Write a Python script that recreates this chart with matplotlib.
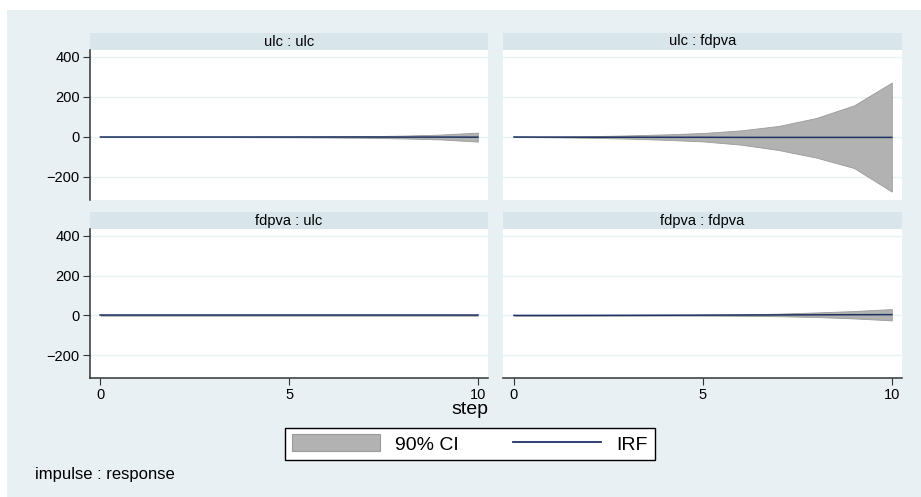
import numpy as np
import matplotlib.pyplot as plt
from matplotlib.patches import Rectangle, Patch
from matplotlib.lines import Line2D

plt.rcParams['font.family'] = ['Liberation Sans', 'DejaVu Sans']

steps = [0, 1, 2, 3, 4, 5, 6, 7, 8, 9, 10]

# impulse : response panels, in Stata order
titles = ["ulc : ulc", "ulc : fdpva", "fdpva : ulc", "fdpva : fdpva"]

irf_ulc_ulc = [0, 0, 0, 0, 0, 0, 0, 0, -0.5, -0.5, -1]
lo_ulc_ulc = [0, -0.1, -0.2, -0.4, -0.8, -1.5, -2.5, -4, -7, -12, -23]
hi_ulc_ulc = [0, 0.1, 0.2, 0.4, 0.8, 1.5, 2.5, 4, 7, 12, 22]

irf_ulc_fdpva = [0, -0.5, -1, -1, -1.5, -1.5, -2, -2, -2, -2, -2]
lo_ulc_fdpva = [0, -1.5, -4, -8, -14, -22, -38, -65, -103, -155, -273]
hi_ulc_fdpva = [0, 1.5, 4, 8, 13, 20, 33, 55, 95, 158, 272]

irf_fdpva_ulc = [0, 0, 0, 0, 0, 0, 0, 0, 0, 0, 0]
lo_fdpva_ulc = [0, -0.1, -0.1, -0.2, -0.2, -0.3, -0.4, -0.5, -0.6, -0.8, -1]
hi_fdpva_ulc = [0, 0.1, 0.1, 0.2, 0.2, 0.3, 0.4, 0.5, 0.6, 0.8, 1]

irf_fdpva_fdpva = [0, 0, 0.3, 0.6, 1, 1.5, 2, 2.5, 3, 3.5, 4]
lo_fdpva_fdpva = [0, -0.2, -0.4, -0.6, -0.8, -1, -2, -4, -8, -15, -25]
hi_fdpva_fdpva = [0, 0.2, 0.5, 1, 1.5, 3, 5, 9, 15, 22, 32]

irfs = [irf_ulc_ulc, irf_ulc_fdpva, irf_fdpva_ulc, irf_fdpva_fdpva]
los = [lo_ulc_ulc, lo_ulc_fdpva, lo_fdpva_ulc, lo_fdpva_fdpva]
his = [hi_ulc_ulc, hi_ulc_fdpva, hi_fdpva_ulc, hi_fdpva_fdpva]

yticks = [-200, 0, 200, 400]
xticks = [0, 5, 10]

bg = '#e8f0f3'
strip_col = '#d8e5eb'
ci_col = '#b2b2b2'
ci_edge = '#9a9a9a'
irf_col = '#1f3264'
axis_col = '#333333'

W, H = 921, 497
fig = plt.figure(figsize=(W / 100, H / 100), dpi=100)
fig.patch.set_facecolor('white')
fig.add_artist(Rectangle((7 / W, 0), 1, 1 - 10 / H, transform=fig.transFigure,
                         facecolor=bg, edgecolor='none', zorder=-10))

# panel boxes in pixels: (left, right) and (top, bottom)
cols = [(89.5, 488), (503, 902)]
rows = [(50, 200), (229, 378)]
strip_h = 17

for i in range(4):
    r, c = divmod(i, 2)
    x0, x1 = cols[c]
    y0, y1 = rows[r]
    ax = fig.add_axes([x0 / W, 1 - y1 / H, (x1 - x0) / W, (y1 - y0) / H])
    ax.set_facecolor('white')
    ax.fill_between(steps, los[i], his[i], facecolor=ci_col, edgecolor=ci_edge,
                    linewidth=0.6, zorder=2)
    ax.plot(steps, irfs[i], color=irf_col, linewidth=1.1, zorder=3)
    ax.set_xlim(-0.29, 10.27)
    ax.set_ylim(-315, 435)
    ax.set_yticks(yticks)
    ax.set_xticks(xticks)
    for yv in yticks:
        ax.axhline(yv, color='#e9f1f3', linewidth=1, zorder=1)
    for s in ['top', 'right']:
        ax.spines[s].set_visible(False)
    ax.spines['left'].set_visible(c == 0)
    ax.spines['bottom'].set_visible(r == 1)
    ax.spines['left'].set_color(axis_col)
    ax.spines['bottom'].set_color(axis_col)
    ax.spines['left'].set_linewidth(1.1)
    ax.spines['bottom'].set_linewidth(1.1)
    ax.tick_params(axis='y', left=(c == 0), labelleft=(c == 0), length=5,
                   color=axis_col, labelsize=10.5, pad=2)
    ax.tick_params(axis='x', bottom=(r == 1), labelbottom=(r == 1), length=5,
                   color=axis_col, labelsize=10.5, pad=2)
    # strip header
    ax.add_patch(Rectangle((0, 1), 1, strip_h / (y1 - y0), transform=ax.transAxes,
                           facecolor=strip_col, edgecolor='none', clip_on=False))
    ax.text(0.5, 1 + strip_h / 2 / (y1 - y0), titles[i], transform=ax.transAxes,
            ha='center', va='center', fontsize=10.5)

fig.text(470 / W, 1 - 410 / H, 'step', ha='center', va='center', fontsize=14)
fig.text(35 / W, 1 - 475 / H, 'impulse : response', ha='left', va='center',
         fontsize=12)

handles = [Patch(facecolor=ci_col, edgecolor=ci_edge, linewidth=0.8),
           Line2D([0], [0], color=irf_col, linewidth=1.3)]
leg = fig.legend(handles, ['90% CI', 'IRF'], loc='center', ncol=2,
                 bbox_to_anchor=(470 / W, 1 - 444 / H), fontsize=14,
                 frameon=True, fancybox=False, edgecolor='black', framealpha=1,
                 handlelength=4.5, handleheight=0.95, handletextpad=0.8,
                 columnspacing=2.8, borderpad=0.35, borderaxespad=0)
leg.get_frame().set_linewidth(1.0)
leg.get_frame().set_facecolor('white')

fig.savefig('out.png', dpi=100)
